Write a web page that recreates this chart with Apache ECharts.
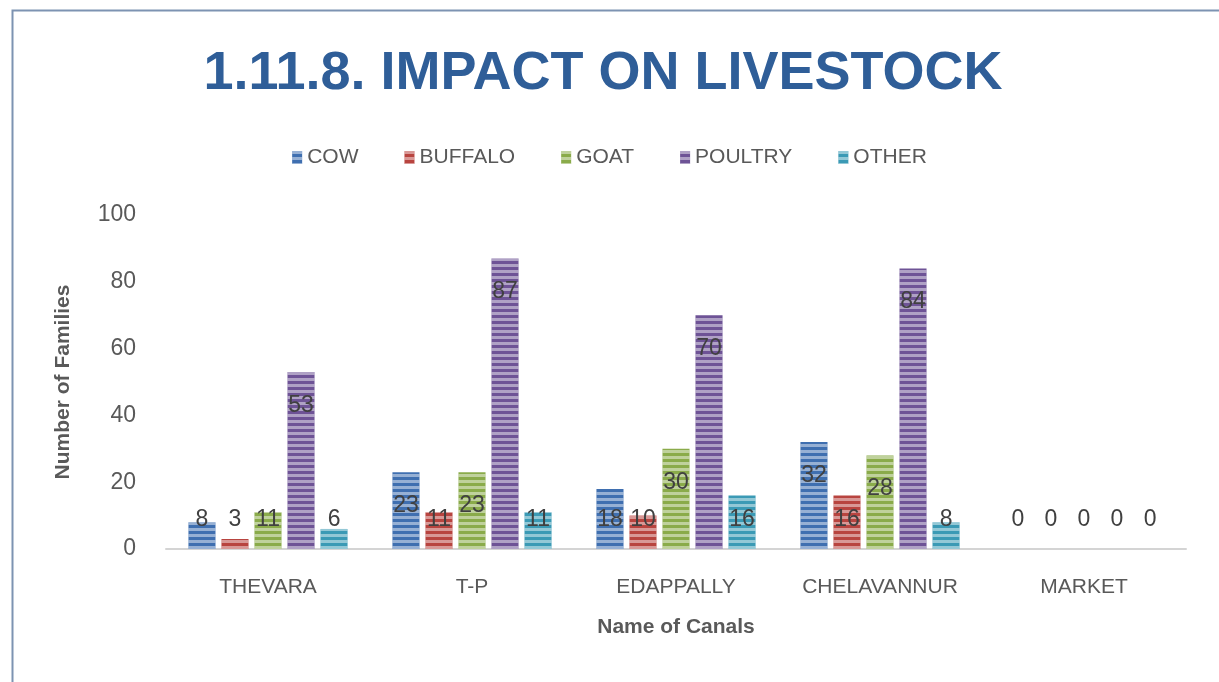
<!DOCTYPE html>
<html><head><meta charset="utf-8">
<script src="https://cdn.jsdelivr.net/npm/echarts@6/dist/echarts.min.js"></script>
<style>html,body{margin:0;padding:0;background:#fff}#c{width:1219px;height:682px}</style>
</head><body><div id="c"></div>
<script>
const categories = ['THEVARA', 'T-P', 'EDAPPALLY', 'CHELAVANNUR', 'MARKET'];
const seriesNames = ['COW', 'BUFFALO', 'GOAT', 'POULTRY', 'OTHER'];
const cow = [8, 23, 18, 32, 0];
const buffalo = [3, 11, 10, 16, 0];
const goat = [11, 23, 30, 28, 0];
const poultry = [53, 87, 70, 84, 0];
const other = [6, 11, 16, 8, 0];
const yTicks = [0, 20, 40, 60, 80, 100];

const values = [cow, buffalo, goat, poultry, other];
const colors = ['#3f6fb0', '#b8443f', '#8aab4a', '#6e5396', '#3b9ab5'];
const F = "'Liberation Sans',sans-serif";

const chart = echarts.init(document.getElementById('c'));
chart.setOption({
  animation: false,
  backgroundColor: '#fff',
  graphic: [{type:'rect', shape:{x:12.5, y:10.5, width:1230, height:700}, style:{fill:'none', stroke:'#7d93b2', lineWidth:2}}],
  title: {
    text: '1.11.8. IMPACT ON LIVESTOCK', top: 42, left: 598, textAlign: 'center',
    textStyle: {fontFamily: F, fontWeight: 'bold', fontSize: 54, color: '#2f5e98'}
  },
  legend: {
    data: seriesNames, top: 142, left: 'center', itemWidth: 10, itemHeight: 13, itemGap: 46,
    icon: 'rect',
    textStyle: {fontFamily: F, fontSize: 21, color: '#595959'}
  },
  grid: {left: 166, right: 33, top: 215, bottom: 133},
  xAxis: {
    type: 'category', data: categories,
    name: 'Name of Canals', nameLocation: 'middle', nameGap: 68,
    nameTextStyle: {fontFamily: F, fontWeight: 'bold', fontSize: 21, color: '#595959'},
    axisLine: {lineStyle: {color: '#d4d4d4', width: 2}},
    axisTick: {show: false},
    axisLabel: {interval: 0, fontFamily: F, fontSize: 21, color: '#595959', margin: 28}
  },
  yAxis: {
    type: 'value', min: yTicks[0], max: yTicks[yTicks.length-1], interval: yTicks[1]-yTicks[0],
    name: 'Number of Families', nameLocation: 'middle', nameGap: 92,
    nameTextStyle: {fontFamily: F, fontWeight: 'bold', fontSize: 21, color: '#595959'},
    splitLine: {show: false}, axisLine: {show: false}, axisTick: {show: false},
    axisLabel: {fontFamily: F, fontSize: 23, color: '#595959', margin: 30}
  },
  series: seriesNames.map((n, i) => ({
    name: n, type: 'bar', data: values[i].map(v => ({
      value: v,
      label: v > 18 ? {position: 'insideTop', distance: 22} : {position: 'insideBottom', distance: 18}
    })),
    barGap: '22%', barCategoryGap: '22%',
    itemStyle: {
      color: colors[i],
      decal: {symbol: 'rect', symbolSize: 1, dashArrayX: [1, 0], dashArrayY: [3, 3], rotation: 0, color: 'rgba(255,255,255,0.45)'}
    },
    label: {show: true, fontFamily: F, fontSize: 23, color: '#404040'}
  }))
});
</script></body></html>
